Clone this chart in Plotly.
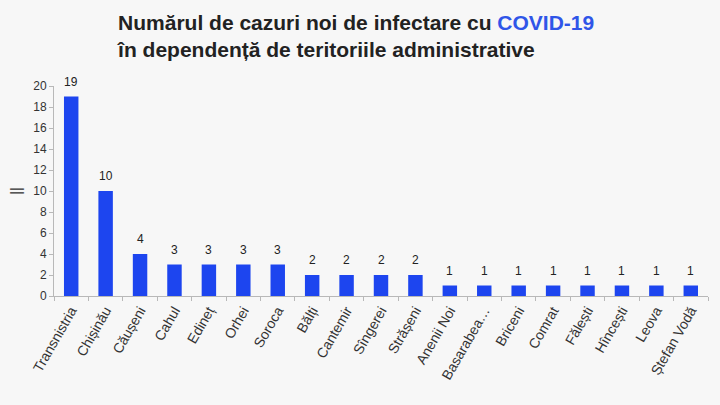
import plotly.graph_objects as go

# Date
regions = ["Transnistria", "Chișinău", "Căușeni", "Cahul", "Edineț", "Orhei", "Soroca",
           "Bălți", "Cantemir", "Sîngerei", "Strășeni", "Anenii Noi", "Basarabea…",
           "Briceni", "Comrat", "Fălești", "Hîncești", "Leova", "Ștefan Vodă"]
cases = [19, 10, 4, 3, 3, 3, 3, 2, 2, 2, 2, 1, 1, 1, 1, 1, 1, 1, 1]
y_ticks = [0, 2, 4, 6, 8, 10, 12, 14, 16, 18, 20]

BLUE = "#1d45ef"
GREY = "#b8b8b8"

fig = go.Figure()

fig.add_trace(go.Bar(
    x=regions, y=cases,
    marker=dict(color=BLUE, line=dict(width=0)),
    width=0.42,
    hoverinfo="x+y",
))

# etichete deasupra barelor
for reg, val in zip(regions, cases):
    fig.add_annotation(
        x=reg, y=val, text=str(val), showarrow=False,
        yanchor="bottom", yshift=6,
        font=dict(size=12, color="#222222", family="Arial"),
    )

fig.update_layout(
    width=720, height=405,
    paper_bgcolor="#f7f7f7", plot_bgcolor="#f7f7f7",
    margin=dict(l=54, r=12, t=86, b=109),
    showlegend=False,
    font=dict(family="Arial", color="#333333"),
    title=dict(
        text="<b>Numărul de cazuri noi de infectare cu <span style='color:#2f55e8'>COVID-19</span>"
             "<br>în dependență de teritoriile administrative</b>",
        x=0.164, xanchor="left", y=0.927, yanchor="top",
        font=dict(size=21, family="Arial", color="#222222"),
    ),
    xaxis=dict(
        automargin=False,
        showline=True, linecolor=GREY, linewidth=1,
        ticks="outside", tickson="boundaries", ticklen=4, tickcolor=GREY,
        tickangle=-60, tickfont=dict(size=14, color="#333333"),
        range=[-0.5, len(regions) - 0.5], showgrid=False,
    ),
    yaxis=dict(
        automargin=False,
        range=[0, 20], tickvals=y_ticks,
        showline=True, linecolor=GREY, linewidth=1,
        ticks="outside", ticklen=4, tickcolor=GREY,
        tickfont=dict(size=12, color="#333333"),
        showgrid=False, zeroline=False,
        title=dict(text="||", font=dict(size=14, color="#333333"), standoff=8),
    ),
)

fig.write_html("out.html", config={"displayModeBar": False},
               post_script="document.body.style.margin='0';")
